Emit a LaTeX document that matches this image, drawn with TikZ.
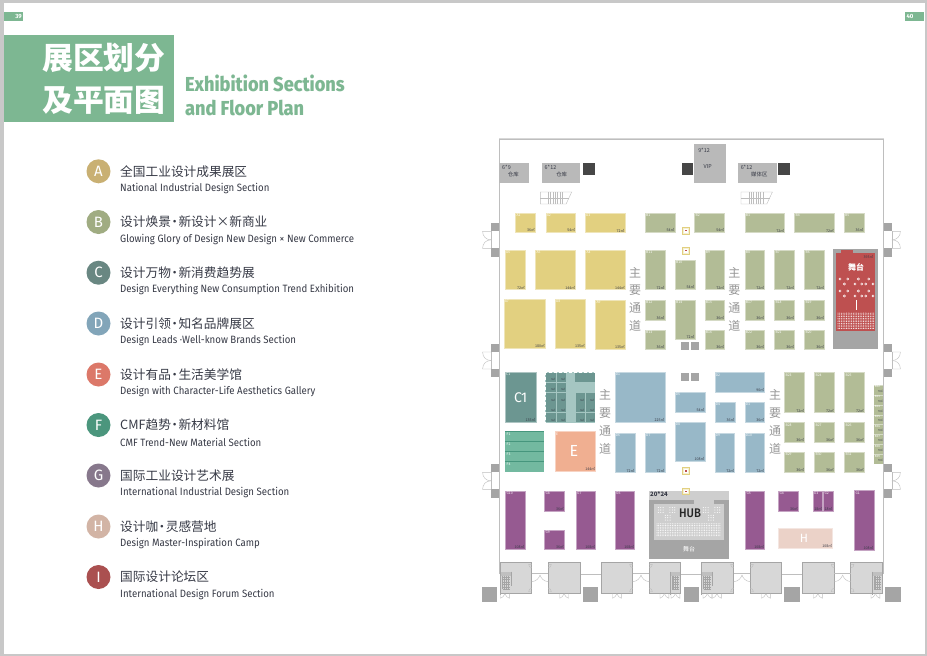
\documentclass[tikz,border=0pt]{standalone}
\usepackage{fontspec}
\usetikzlibrary{patterns}
\setmainfont{Fira Sans}
\newfontfamily\cjk{Noto Sans CJK SC}
\newfontfamily\enfont[FakeStretch=.9]{Fira Sans Medium}
\newfontfamily\legendfont[FakeStretch=.91]{Fira Sans}
\definecolor{pagegrey}{RGB}{200,200,200}
\definecolor{titlegreen}{RGB}{125,183,146}
\definecolor{inkdark}{RGB}{55,58,70}
\definecolor{zoneA}{RGB}{226,208,128}
\definecolor{zoneB}{RGB}{178,188,150}
\definecolor{zoneC}{RGB}{108,150,145}
\definecolor{zoneCbg}{RGB}{165,198,194}
\definecolor{zoneD}{RGB}{152,184,200}
\definecolor{zoneE}{RGB}{240,175,145}
\definecolor{zoneF}{RGB}{115,185,160}
\definecolor{zoneFline}{RGB}{70,150,125}
\definecolor{zoneG}{RGB}{150,90,145}
\definecolor{zoneH}{RGB}{235,210,200}
\definecolor{zoneI}{RGB}{190,80,80}
\definecolor{dotA}{RGB}{201,176,115}
\definecolor{dotB}{RGB}{160,172,130}
\definecolor{dotC}{RGB}{105,135,130}
\definecolor{dotD}{RGB}{130,165,185}
\definecolor{dotE}{RGB}{220,120,105}
\definecolor{dotF}{RGB}{75,150,125}
\definecolor{dotG}{RGB}{135,120,140}
\definecolor{dotH}{RGB}{210,180,165}
\definecolor{dotI}{RGB}{170,80,80}
\definecolor{roomgrey}{RGB}{215,215,215}
\definecolor{blockgrey}{RGB}{165,165,165}
\definecolor{storegrey}{RGB}{185,185,185}
\definecolor{wallgrey}{RGB}{190,190,190}
\definecolor{darkblock}{RGB}{70,70,70}
\definecolor{aislegrey}{RGB}{150,150,150}
\tikzset{
  boothbox/.style={line width=.6pt},
  boothname/.style={anchor=north west,inner sep=.7pt,text=white,font=\cjk\fontsize{3.4}{4}\selectfont},
  bootharea/.style={anchor=south east,inner sep=.5pt,text=inkdark,font=\cjk\fontsize{3.6}{4}\selectfont},
  bigletter/.style={text=white,font=\fontsize{14}{16}\selectfont},
  storetext/.style={inner sep=0pt,text=inkdark,font=\cjk\fontsize{5.4}{6}\selectfont},
  wall/.style={draw=wallgrey,line width=.7pt},
  thinwall/.style={draw=wallgrey,line width=.4pt},
  legendtitle/.style={anchor=west,inner sep=0pt,text=inkdark,font=\cjk\fontsize{12.7}{14}\selectfont},
  legendsub/.style={anchor=west,inner sep=0pt,text=inkdark,font=\legendfont\fontsize{10.6}{12}\selectfont},
  legenddot/.style={circle,inner sep=0pt,minimum size=24pt,text=white,font=\fontsize{15}{16}\selectfont},
  aisleword/.style={inner sep=0pt,text=aislegrey,font=\cjk\fontsize{12}{13}\selectfont},
}
\newcommand{\mdot}{\makebox[7.5pt][c]{·}}
\newcommand{\booth}[7]{
  \path[boothbox,fill=#1,draw=#1!55!white] (#2,#3) rectangle (#4,#5);
  \node[boothname] (n#6) at (#2,#3) {#6};
  \node[bootharea] (a#6) at (#4,#5) {#7㎡};
}
\newcommand{\legenditem}[4]{
  \node[legenddot,fill=dot#1] (dot#1) at (98.5,#2) {#1};
  \node[legendtitle] (cn#1) at (120,#2) {#3};
  \node[legendsub] (en#1) at (120,#2+17) {#4};
}
\newcommand{\aisle}[2]{
  \node[aisleword] at (#1,#2) {主};
  \node[aisleword] at (#1,#2+18) {要};
  \node[aisleword] at (#1,#2+36) {通};
  \node[aisleword] at (#1,#2+54) {道};
}
\newcommand{\sidedoor}[3]{
  \fill[blockgrey] (#1,#3) rectangle +(#2*8.3,-8.3);
  \fill[blockgrey] (#1,#3+17) rectangle +(#2*8.3,8.3);
  \draw[thinwall] (#1+#2*8.3,#3) -- +(0,17);
  \draw[thinwall] (#1+#2*8.3,#3) -- ++(#2*8.4,0) .. controls +(0,5) and +(#2*5,0) .. (#1+#2*8.3,#3+8.5);
  \draw[thinwall] (#1+#2*8.3,#3+17) -- ++(#2*8.4,0) .. controls +(0,-5) and +(#2*5,0) .. (#1+#2*8.3,#3+8.5);
}
\newcommand{\stairs}[2]{
  \draw[thinwall] (#1,#2) -- +(31.4,0) -- +(25.8,12) -- +(0,12) -- cycle;
  \draw[thinwall] (#1,#2+6) -- +(28.6,0);
  \foreach \t in {8,10.3,...,24} \draw[thinwall] (#1+\t,#2) -- +(0,12);
}
\newcommand{\stairgrid}[2]{
  \fill[blockgrey!70!white] (#1,#2) rectangle +(10.6,4);
  \draw[blockgrey,line width=.5pt] (#1,#2) -- +(0,23) (#1+10.6,#2) -- +(0,14);
  \foreach \t in {1.8,3.6,...,9} \draw[blockgrey,line width=.3pt] (#1+\t,#2+4) -- +(0,13);
  \foreach \t in {5,7.5,...,18} \draw[blockgrey,line width=.3pt] (#1+1.8,#2+\t) -- +(7,0);
}
\newcommand{\room}[2]{
  \path[fill=roomgrey,draw=blockgrey,line width=.6pt] (#1,562.3) rectangle (#2,593.7);
}
\newcommand{\hall}[2]{
  \draw[wall] (#1,574) -- (#2,574);
}
\newcommand{\halldoor}[1]{
  \draw[wall] (#1,573.5) -- +(16.6,0);
  \draw[thinwall] (#1,581.7) .. controls +(5,-.5) and +(-1,3) .. (#1+8.3,575);
  \draw[thinwall] (#1+16.6,581.7) .. controls +(-5,-.5) and +(1,3) .. (#1+8.3,575);
  \draw[thinwall] (#1,564.3) -- ++(-3,0) .. controls +(0,2) and +(-2,0) .. ++(3,3.4);
  \draw[thinwall] (#1,591.7) -- ++(-3,0) .. controls +(0,-2) and +(-2,0) .. ++(3,-3.4);
  \draw[thinwall] (#1+16.6,564.3) -- ++(3,0) .. controls +(0,2) and +(2,0) .. ++(-3,3.4);
  \draw[thinwall] (#1+16.6,591.7) -- ++(3,0) .. controls +(0,-2) and +(2,0) .. ++(-3,-3.4);
}
\newcommand{\smalldoor}[1]{
  \draw[thinwall] (#1,593.7) -- ++(0,4.5) .. controls +(2,0) and +(-1,2) .. ++(4.4,-4.5);
  \draw[thinwall] (#1+8.8,593.7) -- ++(0,4.5) .. controls +(-2,0) and +(1,2) .. ++(-4.4,-4.5);
}
\newcommand{\liftmark}[2]{
  \path[fill=zoneA!35!white,draw=zoneA,line width=.6pt] (#1-3.6,#2-3.4) rectangle (#1+3.6,#2+3.4);
  \fill[white] (#1-2,#2-1.8) rectangle (#1+2,#2+1.8);
  \fill[zoneI] (#1-1.1,#2-.6) rectangle (#1+1.1,#2+.6);
}
\newcommand{\seatring}[2]{
  \draw[white,line width=.5pt] (#1,#2) circle (1.1);
}
\newcommand{\seatblob}[2]{
  \foreach \u in {-2.4,0,2.4} \foreach \v in {-2.4,0,2.4} \fill[white] (#1+\u,#2+\v) circle (.55);
}
\newcommand{\seatfield}[4]{
  \foreach \u in {0,...,#3} \foreach \v in {0,...,#4} \fill[white] (#1+\u*1.7,#2+\v*1.7) circle (.5);
}
\begin{document}
\begin{tikzpicture}[x=1pt,y=-1pt]
  \useasboundingbox (0,0) rectangle (927,656);
  \fill[pagegrey] (0,0) rectangle (927,656);
  \fill[white] (4,3) rectangle (924.5,653.5);
  % page tabs
  \fill[titlegreen] (4,12) rectangle (23,21);
  \fill[titlegreen] (905,12) rectangle (924,21);
  \node[text=white,inner sep=0pt,font=\bfseries\fontsize{6}{7}\selectfont] (pageleft) at (18.5,16.5) {39};
  \node[text=white,inner sep=0pt,font=\bfseries\fontsize{6}{7}\selectfont] (pageright) at (910,16.5) {40};
  % title
  \fill[titlegreen] (4,35) rectangle (174,122);
  \node[text=white,inner sep=0pt,font=\cjk\bfseries\fontsize{30.8}{32}\selectfont] (titleone) at (104,57.5) {展区划分};
  \node[text=white,inner sep=0pt,font=\cjk\bfseries\fontsize{30.8}{32}\selectfont] (titletwo) at (104,100.5) {及平面图};
  \node[anchor=west,text=titlegreen,inner sep=0pt,font=\enfont\bfseries\fontsize{20.2}{22}\selectfont] (titleenone) at (185,83.5) {Exhibition Sections};
  \node[anchor=west,text=titlegreen,inner sep=0pt,font=\enfont\bfseries\fontsize{20.2}{22}\selectfont] (titleentwo) at (185,107.5) {and Floor Plan};
  % legend
  \legenditem{A}{171.3}{全国工业设计成果展区}{National Industrial Design Section}
  \legenditem{B}{222}{设计焕景\mdot 新设计×新商业}{Glowing Glory of Design New Design × New Commerce}
  \legenditem{C}{272.7}{设计万物\mdot 新消费趋势展}{Design Everything New Consumption Trend Exhibition}
  \legenditem{D}{323.5}{设计引领\mdot 知名品牌展区}{Design Leads ·Well-know Brands Section}
  \legenditem{E}{374.5}{设计有品\mdot 生活美学馆}{Design with Character-Life Aesthetics Gallery}
  \legenditem{F}{425}{CMF趋势\mdot 新材料馆}{CMF Trend-New Material Section}
  \legenditem{G}{475.5}{国际工业设计艺术展}{International Industrial Design Section}
  \legenditem{H}{526.5}{设计咖\mdot 灵感营地}{Design Master-Inspiration Camp}
  \legenditem{I}{577}{国际设计论坛区}{International Design Forum Section}
  % hall walls
  \draw[wall] (499.3,574) -- (499.3,139.3) -- (883.7,139.3) -- (883.7,574);
  \draw[draw=wallgrey!60!white,line width=.9pt] (499.3,138.9) -- (883.7,138.9);
  \sidedoor{499.3}{-1}{231.3}
  \sidedoor{499.3}{-1}{352}
  \sidedoor{499.3}{-1}{472.3}
  \sidedoor{883.7}{1}{231.3}
  \sidedoor{883.7}{1}{352}
  \sidedoor{883.7}{1}{472.3}
  % stores
  \fill[storegrey] (499.3,163) rectangle (529,183);
  \fill[storegrey] (542,163) rectangle (580.3,183);
  \fill[storegrey] (693.7,144) rectangle (726,183.3);
  \fill[storegrey] (738.3,163) rectangle (776.7,183);
  \fill[darkblock] (583.3,163) rectangle (595,174.7);
  \fill[darkblock] (682,163) rectangle (693.3,174.7);
  \fill[darkblock] (778,163) rectangle (789.7,174.7);
  \node[storetext] (sizeone) at (506.5,167.3) {6*9};
  \node[storetext] (storeone) at (513.3,174) {仓库};
  \node[storetext] (sizetwo) at (550.5,167.3) {6*12};
  \node[storetext] (storetwo) at (561.7,174) {仓库};
  \node[storetext] (sizevip) at (704,150.7) {9*12};
  \node[storetext] (vip) at (707.7,166.7) {VIP};
  \node[storetext] (sizemedia) at (746.5,167.3) {6*12};
  \node[storetext] (media) at (759.3,174) {媒体区};
  \stairs{540.3}{192}
  \stairs{741}{192}
  % zone A
  \booth{zoneA}{515.7}{213.3}{535.3}{232.7}{A1}{36}
  \booth{zoneA}{546}{213.3}{575.7}{232.7}{A2}{54}
  \booth{zoneA}{585.3}{213.3}{625}{232.7}{A3}{72}
  \booth{zoneA}{505.3}{250.3}{525.3}{289.7}{A6}{72}
  \booth{zoneA}{535.7}{250.3}{575.7}{289.7}{A5}{144}
  \booth{zoneA}{585.7}{250.3}{625.3}{289.7}{A4}{144}
  \booth{zoneA}{504}{299.3}{545.3}{348.7}{A7}{180}
  \booth{zoneA}{555.3}{299.3}{585.3}{348.7}{A8}{135}
  \booth{zoneA}{595.7}{300}{625.3}{349.7}{A9}{135}
  % zone B
  \booth{zoneB}{645.3}{213.3}{675}{232.7}{B1}{54}
  \booth{zoneB}{694.7}{213.3}{724.7}{232.7}{B2}{54}
  \booth{zoneB}{745}{213.3}{784.7}{232.7}{B3}{72}
  \booth{zoneB}{794.7}{213.3}{834.3}{232.7}{B4}{72}
  \booth{zoneB}{844.3}{213.3}{864}{232.7}{B5}{36}
  \booth{zoneB}{645.3}{250.3}{665}{289.7}{B11}{72}
  \booth{zoneB}{675.3}{260}{695}{289.7}{B10}{54}
  \booth{zoneB}{705}{250.3}{724.7}{289.7}{B9}{72}
  \booth{zoneB}{745}{250.3}{764.7}{289.7}{B8}{72}
  \booth{zoneB}{774.7}{250.3}{794.7}{289.7}{B7}{72}
  \booth{zoneB}{804.7}{250.3}{824.7}{289.7}{B6}{72}
  \booth{zoneB}{645.3}{300.3}{665}{320}{B12}{36}
  \booth{zoneB}{645.3}{330}{665}{349.7}{B13}{36}
  \booth{zoneB}{675.3}{300}{695}{339.3}{B14}{72}
  \booth{zoneB}{705}{300}{724.7}{320}{B15}{36}
  \booth{zoneB}{705}{330}{724.7}{349.7}{B16}{36}
  \booth{zoneB}{745}{300}{764.7}{320}{B17}{36}
  \booth{zoneB}{774.7}{300}{794.7}{320}{B18}{36}
  \booth{zoneB}{804.7}{300}{824.7}{320}{B19}{36}
  \booth{zoneB}{745}{330}{764.7}{349.7}{B22}{36}
  \booth{zoneB}{774.7}{330}{794.7}{349.7}{B21}{36}
  \booth{zoneB}{804.7}{330}{824.7}{349.7}{B20}{36}
  \booth{zoneB}{784.7}{372.7}{804.7}{412.7}{B23}{72}
  \booth{zoneB}{814.7}{372.7}{834.3}{412.7}{B24}{72}
  \booth{zoneB}{844.7}{372.7}{864.3}{412.7}{B25}{72}
  \booth{zoneB}{784.7}{422.7}{804.7}{442.3}{B28}{36}
  \booth{zoneB}{814.7}{422.7}{834.3}{442.3}{B27}{36}
  \booth{zoneB}{844.7}{422.7}{864.3}{442.3}{B26}{36}
  \booth{zoneB}{784.7}{452.3}{804.7}{472}{B29}{36}
  \booth{zoneB}{814.7}{452.3}{834.3}{472}{B30}{36}
  \booth{zoneB}{844.7}{452.3}{864.3}{472}{B31}{36}
  % wall strip of small booths
  \fill[zoneB] (874,385) rectangle (883.3,464.3);
  \foreach \i [evaluate=\i as \yy using 385+\i*9.9, evaluate=\i as \num using int(32+\i)] in {0,...,7}{
    \draw[zoneB!55!white,line width=.4pt] (874,\yy) -- +(9.3,0);
    \node[boothname,font=\cjk\fontsize{2.8}{3}\selectfont] (nB\num) at (874,\yy) {B\num};
    \node[bootharea,font=\cjk\fontsize{2.8}{3}\selectfont] (aB\num) at (883.3,\yy+8) {9㎡};
  }
  % stage
  \fill[blockgrey] (833.3,249.3) rectangle (878.3,349.3);
  \fill[zoneI] (836,252.7) rectangle (875.3,331.3);
  \fill[zoneI] (841.3,250) rectangle (853,253);
  \node[bootharea,anchor=north east] (aStage) at (874,255) {393㎡};
  \node[text=white,inner sep=0pt,font=\cjk\bfseries\fontsize{8}{9}\selectfont] (stagetitle) at (856,267.7) {舞台};
  \foreach \px/\py in {840/279,847.7/279,844.3/284,858.3/279,855/284,861.7/284,868.7/279,865.7/284,873/284,
    840/291,847.7/291,844.3/296,858.3/291,855/296,861.7/296,868.7/291,865.7/296,873/296}
    \seatring{\px}{\py};
  \draw[white,line width=1pt] (856,300) -- +(0,10);
  \seatfield{838}{313.2}{21}{9}
  % zone C
  \booth{zoneC}{505.3}{372.3}{536}{422.3}{C1}{135}
  \node[bigletter] (labelC) at (520.7,397.7) {C1};
  \fill[zoneCbg] (544.7,372.3) rectangle (595,423.3);
  \draw[white,densely dashed,line width=.4pt] (544.7,372.3) rectangle (595,423.3);
  \foreach \ya/\yb [count=\r] in {373.3/381.7,383.3/391.7,393.3/402.7,403.3/412.3,413.3/422.3}{
    \fill[zoneC] (546,\ya) rectangle (556,\yb);
    \fill[zoneC] (557.3,\ya) rectangle (566,\yb);
    \node[bootharea,font=\cjk\fontsize{2.6}{3}\selectfont] (areaL\r) at (556,\yb) {9㎡};
    \node[bootharea,font=\cjk\fontsize{2.6}{3}\selectfont] (areaM\r) at (566,\yb) {9㎡};
  }
  \fill[zoneC] (575,372.7) rectangle (595,382.3);
  \foreach \ya/\yb [count=\r] in {393.3/402.7,403.3/412.3,413.3/422.3}{
    \fill[zoneC] (575.7,\ya) rectangle (585,\yb);
    \fill[zoneC] (585.7,\ya) rectangle (595,\yb);
    \node[bootharea,font=\cjk\fontsize{2.6}{3}\selectfont] (areaR\r) at (585,\yb) {9㎡};
    \node[bootharea,font=\cjk\fontsize{2.6}{3}\selectfont] (areaS\r) at (595,\yb) {9㎡};
  }
  % zone F and E
  \fill[zoneF] (505.3,431.7) rectangle (544.3,471.7);
  \foreach \yy/\name [count=\r] in {431.7/F1,441.7/F2,451.7/F3,461.7/F4}{
    \draw[zoneFline,line width=.6pt] (505.3,\yy) -- +(39,0);
    \node[boothname] (n\name) at (505.8,\yy+.8) {\name};
  }
  \booth{zoneE}{555.3}{431.7}{595.7}{471.3}{E}{144}
  \node[bigletter,font=\fontsize{16}{18}\selectfont] (labelE) at (574,451) {E};
  % zone D
  \booth{zoneD}{615}{372.3}{665}{422.3}{D1}{225}
  \booth{zoneD}{615}{433.3}{635}{472.7}{D6}{72}
  \booth{zoneD}{645.3}{433.3}{665}{472.7}{D7}{72}
  \booth{zoneD}{675}{392.3}{705}{412.3}{D5}{54}
  \booth{zoneD}{675}{422.3}{705}{461}{D8}{108}
  \booth{zoneD}{715}{372.7}{764.7}{392.3}{D2}{90}
  \booth{zoneD}{715}{402.3}{735}{422.3}{D4}{36}
  \booth{zoneD}{745}{402.3}{764.7}{422.3}{D3}{36}
  \booth{zoneD}{715}{433.3}{734.7}{472.7}{D9}{72}
  \booth{zoneD}{745}{433.3}{764.7}{472.7}{D10}{72}
  % zone G and H
  \booth{zoneG}{505.7}{491}{525}{549.3}{G10}{108}
  \booth{zoneG}{544.7}{491}{564.3}{511.3}{G8}{36}
  \booth{zoneG}{544.7}{530}{564.3}{549.3}{G9}{36}
  \booth{zoneG}{576.3}{491}{595.7}{549.3}{G7}{108}
  \booth{zoneG}{615.3}{491}{634.7}{549.3}{G6}{108}
  \booth{zoneG}{745.7}{491}{764.7}{549.3}{G5}{108}
  \booth{zoneG}{778.7}{491}{798.3}{511.3}{G4}{36}
  \booth{zoneG}{813}{491}{822.7}{511.3}{G3}{18}
  \booth{zoneG}{823.7}{491}{833}{511.3}{G2}{18}
  \booth{zoneG}{854.7}{490.7}{874}{550}{G1}{108}
  \booth{zoneH}{778.7}{528.7}{832.7}{548.7}{}{108}
  \node[bigletter,font=\fontsize{12}{14}\selectfont] (labelH) at (804,538) {H};
  % hub
  \fill[roomgrey!90!gray] (649,490.7) rectangle (729.3,559.3);
  \fill[blockgrey] (649,500) rectangle (694.3,504);
  \fill[blockgrey] (714,500) rectangle (729.3,504);
  \fill[blockgrey] (649,504) rectangle (654,559.3);
  \fill[blockgrey] (724.3,504) rectangle (729.3,559.3);
  \fill[blockgrey] (649,540) rectangle (729.3,559.3);
  \node[storetext,font=\cjk\bfseries\fontsize{6}{7}\selectfont] (hubsize) at (659,494.5) {20*24};
  \node[inner sep=0pt,text=black!85,font=\enfont\fontsize{12.5}{14}\selectfont] (hub) at (690,513.5) {HUB};
  \node[text=white,inner sep=0pt,font=\cjk\fontsize{6}{7}\selectfont] (hubstage) at (689,549) {舞台};
  \seatfield{657}{523.8}{37}{7}
  \seatblob{660.7}{510}
  \seatblob{672.3}{510}
  \seatblob{667.7}{517.7}
  \seatblob{705.7}{510}
  \seatblob{717.3}{510}
  \seatblob{711}{517.7}
  % service blocks
  \fill[blockgrey] (680.7,341.7) rectangle (689,350);
  \fill[blockgrey] (690.7,341.7) rectangle (699,350);
  \fill[blockgrey] (680.7,372.7) rectangle (689,381);
  \fill[blockgrey] (690.7,372.7) rectangle (699,381);
  \liftmark{686}{230.7}
  \liftmark{686}{250.7}
  \liftmark{686}{471}
  \liftmark{686}{491.3}
  % aisles
  \aisle{635}{272.3}
  \aisle{734.3}{272.3}
  \aisle{605}{395}
  \aisle{775}{395}
  % rooms along the bottom
  \hall{580}{601}
  \hall{680.7}{701.7}
  \hall{781.7}{802.3}
  \room{500}{531.7}
  \room{548.3}{580}
  \room{601}{632.7}
  \room{649.3}{680.7}
  \room{701.7}{733.7}
  \room{750}{781.7}
  \room{802.3}{834.3}
  \room{850.3}{882.7}
  \halldoor{531.7}
  \halldoor{632.7}
  \halldoor{733.7}
  \halldoor{834.3}
  \stairgrid{500.7}{571.7}
  \stairgrid{670}{571.7}
  \stairgrid{701.7}{571.7}
  \stairgrid{871.9}{571.7}
  \smalldoor{500.5}
  \smalldoor{559.7}
  \smalldoor{612.5}
  \smalldoor{660}
  \smalldoor{671}
  \smalldoor{703}
  \smalldoor{712.5}
  \smalldoor{761.5}
  \smalldoor{813.5}
  \smalldoor{871}
  \fill[blockgrey] (481.7,586.7) rectangle (497.3,602);
  \fill[blockgrey] (583,586.7) rectangle (598.3,602);
  \fill[blockgrey] (683.7,586.7) rectangle (699,602);
  \fill[blockgrey] (784.3,586.7) rectangle (799.7,602);
  \fill[blockgrey] (885.3,586.7) rectangle (900.7,602);
\end{tikzpicture}
\end{document}
